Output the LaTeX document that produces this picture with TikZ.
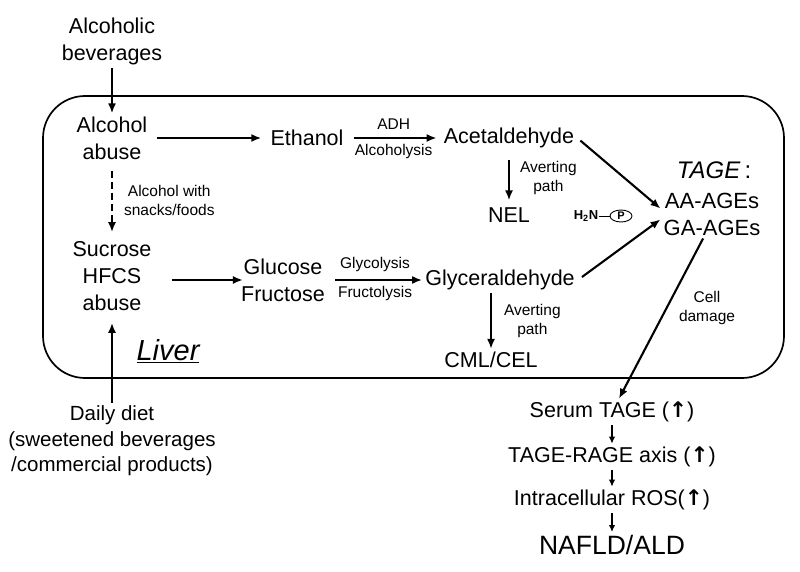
\documentclass[tikz,border=0pt]{standalone}
\usepackage{fontspec}
\setmainfont{Liberation Sans}
\newfontfamily\arrowfont{DejaVu Sans}
\usetikzlibrary{arrows.meta,shapes.geometric}
\newcommand{\upmark}{{\arrowfont\bfseries ↑}}
\tikzset{
  term/.style={align=center,inner sep=3pt,font=\fontsize{21.5}{27}\selectfont},
  note/.style={align=center,inner sep=2pt,font=\fontsize{15.5}{18.5}\selectfont},
  arr/.style={line width=2.1pt,-{Latex[length=10pt,width=8pt]}},
  sarr/.style={line width=1.8pt,-{Latex[length=7pt,width=6.5pt]}},
}
\begin{document}
\begin{tikzpicture}[x=1pt,y=-1pt]
  \useasboundingbox (0,0) rectangle (800,572);
  %% Liver
  \draw[line width=1.7pt,rounded corners=42pt] (43,96) rectangle (784,378);
  \node[font=\fontsize{29}{29}\selectfont\itshape] (liver) at (168,351) {\underline{Liver}};
  %% Alcohol route
  \node[term] (bev) at (112,41) {Alcoholic\\beverages};
  \node[term] (abuse) at (112,138) {Alcohol\\abuse};
  \node[term] (eth) at (307,138) {Ethanol};
  \node[term] (acet) at (509,138) {Acetaldehyde};
  \node[term] (nel) at (509,215) {NEL};
  %% Sugar route
  \node[term] (suc) at (112,276) {Sucrose\\HFCS\\abuse};
  \node[term] (glu) at (283,280) {Glucose\\Fructose};
  \node[term] (glyc) at (500,280) {Glyceraldehyde};
  \node[term] (cml) at (491,360) {CML/CEL};
  \node[term,font=\fontsize{20.5}{25.5}\selectfont] (diet) at (112,441) {Daily diet\\(sweetened beverages\\/commercial products)};
  %% TAGE
  \node[term,font=\fontsize{24}{24}\selectfont] (tage) at (714,170) {\textit{TAGE}\,:};
  \node[term,font=\fontsize{22}{27}\selectfont] (ages) at (712,214) {AA-AGEs\\GA-AGEs};
  \node[font=\fontsize{13}{13}\selectfont\bfseries,inner sep=1pt] (hn) at (586,216) {H\textsubscript{2}N};
  \node[draw,ellipse,line width=0.9pt,inner sep=0pt,minimum width=22pt,minimum height=12pt,font=\fontsize{11}{11}\selectfont\bfseries] (pep) at (621,216) {P};
  \draw[line width=0.9pt] (hn) -- (pep);
  \node[note] (cell) at (707,308) {Cell\\damage};
  %% Serum chain
  \node[term] (serum) at (612,412) {Serum TAGE (\upmark)};
  \node[term] (axis) at (612,457) {TAGE-RAGE axis (\upmark)};
  \node[term] (ros) at (612,500) {Intracellular ROS(\upmark)};
  \node[term,font=\fontsize{26.5}{30}\selectfont] (nafld) at (612,545) {NAFLD/ALD};
  %% Arrows
  \draw[arr] (bev) -- (abuse);
  \draw[arr,shorten <=7pt,shorten >=6pt] (abuse) -- (eth);
  \draw[arr,shorten <=7pt,shorten >=4pt] (eth) -- node[note,above=5pt] {ADH} node[note,below=3pt] {Alcoholysis} (acet);
  \draw[arr,shorten <=9pt,shorten >=4pt] (acet) -- node[note,right=8pt] {Averting\\path} (nel);
  \draw[arr,shorten <=4pt] (acet.east) -- (ages.174);
  \draw[arr,shorten <=5pt] (glyc.east) -- (ages.186);
  \draw[arr,dash pattern=on 7pt off 4pt,shorten <=8pt,shorten >=6pt] (abuse) -- node[note,right=9pt] {Alcohol with\\snacks/foods} (suc);
  \draw[arr,shorten <=17pt,shorten >=-5pt] (suc.east |- glu.west) -- (glu.west);
  \draw[arr,shorten <=7pt] (glu) -- node[note,above=5pt] {Glycolysis} node[note,below=3pt] {Fructolysis} (glyc);
  \draw[arr] (glyc.south -| cml.north) -- node[note,right=10pt] {Averting\\path} (cml.north);
  \draw[arr,shorten >=9pt] (diet) -- (suc);
  \draw[arr] (ages.-110) -- (serum);
  \draw[sarr] (serum) -- (axis);
  \draw[sarr] (axis) -- (ros);
  \draw[sarr] (ros) -- (nafld);
\end{tikzpicture}
\end{document}
